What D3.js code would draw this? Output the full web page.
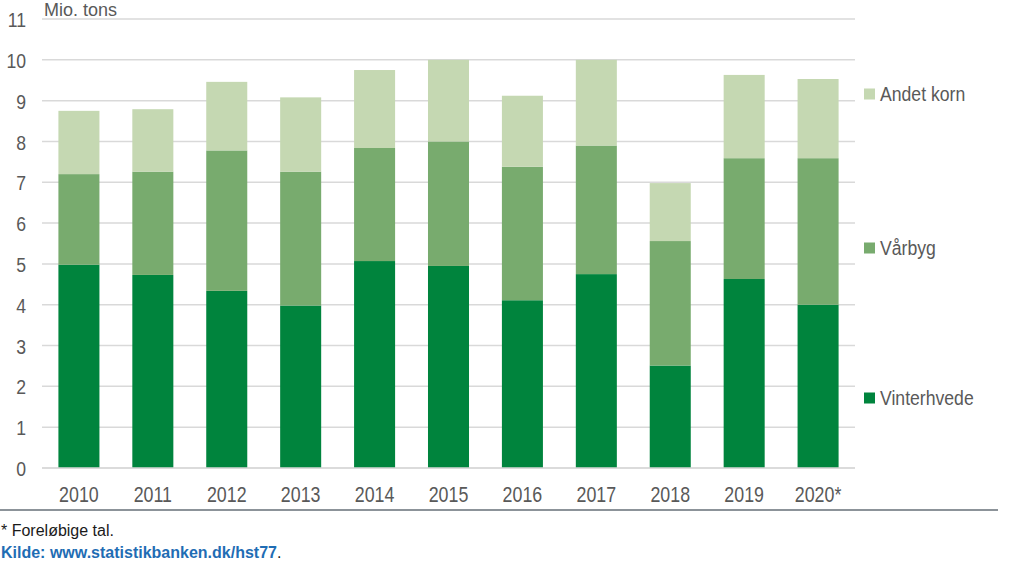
<!DOCTYPE html>
<html><head><meta charset="utf-8">
<script src="https://cdn.jsdelivr.net/npm/d3@7/dist/d3.min.js"></script>
<style>
html,body{margin:0;padding:0;background:#fff;}
svg{display:block;}
text{font-family:"Liberation Sans",Arial,sans-serif;}
</style></head>
<body>
<svg id="c" width="1009" height="568"></svg>
<script>
const years = ["2010","2011","2012","2013","2014","2015","2016","2017","2018","2019","2020*"];
const vinterhvede = [4.98,4.73,4.34,3.98,5.07,4.95,4.11,4.75,2.51,4.63,4.00];
const vaarbyg     = [2.22,2.53,3.44,3.28,2.77,3.05,3.27,3.15,3.05,2.96,3.59];
const andetKorn   = [1.55,1.53,1.68,1.82,1.91,2.00,1.74,2.10,1.42,2.04,1.94];
const seriesNames = ["Vinterhvede","Vårbyg","Andet korn"];
const seriesColors = ["#00843d","#78ab6e","#c5d8b2"];
const yTicks = [0,1,2,3,4,5,6,7,8,9,10,11];

const svg = d3.select("#c");
const x0 = 42, x1 = 855, yTop = 19, yBot = 468;
const x = d3.scaleBand().domain(years).range([x0,x1]).paddingInner(0.445).paddingOuter(0.222);
const y = d3.scaleLinear().domain([0,11]).range([yBot,yTop]);

// gridlines
svg.append("g").selectAll("line").data(yTicks).join("line")
  .attr("x1",x0).attr("x2",x1).attr("y1",d=>y(d)).attr("y2",d=>y(d))
  .attr("stroke","#d9d9d9").attr("stroke-width",1.5);

// y labels
const yAxis = d3.axisLeft(y).tickValues(yTicks).tickSize(0).tickPadding(0);
const gy = svg.append("g").attr("transform","translate(26,0)").call(yAxis);
gy.select(".domain").remove();
gy.selectAll("text").attr("fill","#595959").attr("font-size","21px")
  .attr("font-family","'Liberation Sans',Arial,sans-serif")
  .attr("x",0).attr("dy","0.36em").attr("transform","scale(0.84,1)");

// stacked data
const rows = years.map((yr,i)=>({year:yr, "Vinterhvede":vinterhvede[i], "Vårbyg":vaarbyg[i], "Andet korn":andetKorn[i]}));
const stack = d3.stack().keys(seriesNames)(rows);
const color = d3.scaleOrdinal().domain(seriesNames).range(seriesColors);

svg.append("g").selectAll("g").data(stack).join("g")
  .attr("fill",d=>color(d.key))
  .selectAll("rect").data(d=>d).join("rect")
  .attr("x",d=>x(d.data.year)).attr("width",x.bandwidth())
  .attr("y",d=>y(d[1])).attr("height",d=>y(d[0])-y(d[1]));

// x axis
const xAxis = d3.axisBottom(x).tickSize(0).tickPadding(0);
const gx = svg.append("g").attr("transform",`translate(0,${yBot})`).call(xAxis);
gx.select(".domain").remove();
gx.selectAll("text").attr("fill","#595959").attr("font-size","22px")
  .attr("y",34).attr("dy",0)
  .attr("font-family","'Liberation Sans',Arial,sans-serif")
  .attr("transform","scale(0.81,1)");
svg.append("line").attr("x1",x0).attr("x2",x1).attr("y1",yBot).attr("y2",yBot)
  .attr("stroke","#d9d9d9").attr("stroke-width",1.5);

// unit label
svg.append("text").attr("x",44).attr("y",16).attr("font-size","18px").attr("fill","#595959")
  .text("Mio. tons");

// legend
const legendY = {"Andet korn":94,"Vårbyg":248,"Vinterhvede":398};
const lg = svg.append("g").selectAll("g").data(seriesNames).join("g")
  .attr("transform",d=>`translate(864,${legendY[d]})`);
lg.append("rect").attr("x",0).attr("y",-5.5).attr("width",11).attr("height",11).attr("fill",d=>color(d));
lg.append("text").attr("x",16/0.84).attr("y",0).attr("dy","0.35em").attr("font-size","21px")
  .attr("transform","scale(0.84,1)")
  .attr("fill","#595959").text(d=>d);

// separator
svg.append("line").attr("x1",0).attr("x2",998).attr("y1",510).attr("y2",510)
  .attr("stroke","#8c9399").attr("stroke-width",2);

// footer
svg.append("text").attr("x",1).attr("y",536).attr("font-size","16px").attr("fill","#1a1a1a")
  .attr("font-family","'Liberation Sans',Arial,sans-serif").text("* Foreløbige tal.");
const k = svg.append("text").attr("x",1).attr("y",558).attr("font-size","16px")
  .attr("font-family","'Liberation Sans',Arial,sans-serif").attr("font-weight","bold");
k.append("tspan").attr("fill","#1f6db4").text("Kilde: www.statistikbanken.dk/hst77");
k.append("tspan").attr("fill","#1a1a1a").attr("font-weight","normal").text(".");
</script>
</body></html>
